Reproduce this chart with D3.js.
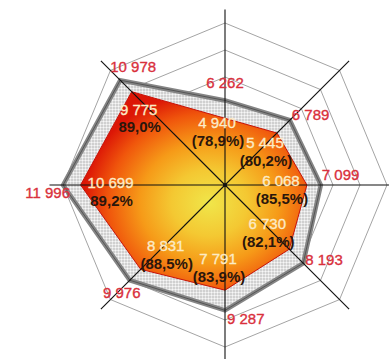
<!DOCTYPE html>
<html>
<head>
<meta charset="utf-8">
<script src="https://cdn.jsdelivr.net/npm/d3@7"></script>
<style>
  html, body { margin: 0; padding: 0; background: #fff; }
  svg { display: block; }
  text { font-family: "Liberation Sans", Arial, sans-serif; }
</style>
</head>
<body>
<svg id="chart" width="389" height="359"></svg>
<script>
// ---- data ----
const categories = ["A", "B", "C", "D", "E", "F", "G", "H"]; // clockwise from top
const totalValues = [6262, 6789, 7099, 8193, 9287, 9976, 11996, 10978];
const partValues  = [4940, 5445, 6068, 6730, 7791, 8831, 10699, 9775];
const partShares  = ["(78,9%)", "(80,2%)", "(85,5%)", "(82,1%)", "(83,9%)", "(88,5%)", "89,2%", "89,0%"];
const ringTicks   = [2000, 4000, 6000, 8000, 10000, 12000];
const axisMax = 12000;
const axisExtent = 13000;

// ---- layout ----
const svg = d3.select("#chart");
const cx = 225, cy = 185, R = 162;
const r = d3.scaleLinear().domain([0, axisMax]).range([0, R]);
const angle = d3.scalePoint().domain(categories).range([0, 2 * Math.PI * (categories.length - 1) / categories.length]);
const pt = (c, v) => {
  const a = angle(c);
  return [cx + r(v) * Math.sin(a), cy - r(v) * Math.cos(a)];
};
const fmt = v => d3.format(",")(v).replace(/,/g, " ");

const defs = svg.append("defs");
const pat = defs.append("pattern").attr("id", "stipple").attr("patternUnits", "userSpaceOnUse")
  .attr("width", 3).attr("height", 3);
pat.append("rect").attr("width", 3).attr("height", 3).attr("fill", "#c4c4c4");
pat.append("circle").attr("cx", 1.5).attr("cy", 1.5).attr("r", 1.2).attr("fill", "#f7f7f7");

const grad = defs.append("radialGradient").attr("id", "hot")
  .attr("cx", 0.57).attr("cy", 0.56).attr("r", 0.56);
[[0, "#f0e64a"], [0.3, "#f4c832"], [0.55, "#f69a18"], [0.8, "#f0560c"], [1, "#dc1606"]]
  .forEach(([o, c]) => grad.append("stop").attr("offset", o).attr("stop-color", c));

// rings
const ringLine = d3.line();
svg.append("g").selectAll("path").data(ringTicks).join("path")
  .attr("d", t => ringLine(categories.map(c => pt(c, t))) + "Z")
  .attr("fill", "none").attr("stroke", "#a4a4a4").attr("stroke-width", 1);

// outer series
const outerD = ringLine(categories.map((c, i) => pt(c, totalValues[i]))) + "Z";
svg.append("path").attr("d", outerD)
  .attr("fill", "url(#stipple)").attr("stroke", "#858585").attr("stroke-width", 4.5)
  .attr("stroke-linejoin", "miter");
svg.append("path").attr("d", outerD)
  .attr("fill", "none").attr("stroke", "#555").attr("stroke-width", 1);

// inner series
svg.append("path")
  .attr("d", ringLine(categories.map((c, i) => pt(c, partValues[i]))) + "Z")
  .attr("fill", "url(#hot)").attr("stroke", "#c81208").attr("stroke-width", 1);

// axes
svg.append("g").selectAll("line").data(categories).join("line")
  .attr("x1", cx).attr("y1", cy)
  .attr("x2", c => pt(c, axisExtent)[0]).attr("y2", c => pt(c, axisExtent)[1])
  .attr("stroke", "#111").attr("stroke-width", 1.1);
svg.append("circle").attr("cx", cx).attr("cy", cy).attr("r", 2).attr("fill", "#111");

// label placement (offsets from each vertex)
const outerPlace = [
  [0, -12, "middle"], [2, 0, "start"], [1, -5, "start"], [2, 2, "start"],
  [2, 14, "start"], [-8, 18, "middle"], [7, 13, "end"], [13, -8, "middle"]
];
const innerPlace = [
  [-8, 10], [-12, 15], [-26, 1], [-22, -20], [-7, -26], [25, -18], [30, 3], [7, 23]
];

const gOut = svg.append("g");
categories.forEach((c, i) => {
  const [x, y] = pt(c, totalValues[i]);
  const [dx, dy, anchor] = outerPlace[i];
  gOut.append("text").attr("x", x + dx).attr("y", y + dy)
    .attr("text-anchor", anchor).attr("font-size", 15).attr("fill", "#d9303c")
    .attr("stroke", "#d9303c").attr("stroke-width", 0.35)
    .text(fmt(totalValues[i]));
});

const gIn = svg.append("g");
categories.forEach((c, i) => {
  const [x, y] = pt(c, partValues[i]);
  const [dx, dy] = innerPlace[i];
  gIn.append("text").attr("x", x + dx).attr("y", y + dy)
    .attr("text-anchor", "middle").attr("font-size", 15).attr("fill", "#fcebc6")
    .attr("stroke", "#fcebc6").attr("stroke-width", 0.35)
    .text(fmt(partValues[i]));
  gIn.append("text").attr("x", x + dx + 1).attr("y", y + dy + 17.5)
    .attr("text-anchor", "middle").attr("font-size", 15).attr("font-weight", "bold")
    .attr("fill", "#2a160c")
    .text(partShares[i]);
});
</script>
</body>
</html>
